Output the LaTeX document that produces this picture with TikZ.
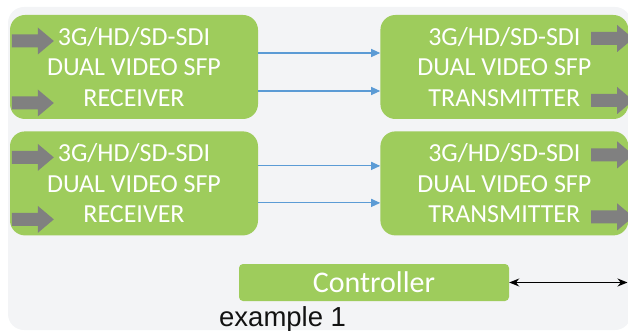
\documentclass[tikz,border=0pt]{standalone}
\usepackage{fontspec}
\usepackage{tikz}
\usetikzlibrary{positioning}
\usetikzlibrary{arrows.meta}
\newfontfamily\carlito{Carlito}
\newfontfamily\arial{Liberation Sans}
\definecolor{sfpgreen}{RGB}{158,204,92}
\definecolor{fatgray}{RGB}{128,128,128}
\definecolor{linkblue}{RGB}{91,155,213}
\definecolor{panelgray}{RGB}{243,244,246}
% grey block arrow, tail centre at #1
\newcommand\fatarrow[1]{\fill[fatgray] (#1) ++(0,-6.5) -- ++(26,0) -- ++(0,-7)
  -- ++(16,13.5) -- ++(-16,13.5) -- ++(0,-7) -- ++(-26,0) -- cycle;}

\begin{document}
\begin{tikzpicture}[x=1pt,y=-1pt,>={Stealth[length=10pt,width=8pt]},
    sfp/.style={fill=sfpgreen,text=white,rounded corners=15pt,inner sep=0pt,
      minimum width=248pt,minimum height=104pt,align=center,
      font=\carlito\fontsize{26pt}{30.5pt}\selectfont},
    link/.style={linkblue,line width=1.1pt,-{Triangle[length=9pt,width=8pt]}}]
    \clip (0,0) rectangle (628,331);
    \fill[panelgray,rounded corners=16pt] (8,7) rectangle (631,330);
    % modules
    \node[sfp] (rx1) at (134,67) {3G/HD/SD-SDI\\DUAL VIDEO SFP\\RECEIVER};
    \node[sfp,below=12pt of rx1] (rx2) {3G/HD/SD-SDI\\DUAL VIDEO SFP\\RECEIVER};
    \node[sfp,right=122pt of rx1] (tx1) {3G/HD/SD-SDI\\DUAL VIDEO SFP\\TRANSMITTER};
    \node[sfp,right=122pt of rx2] (tx2) {3G/HD/SD-SDI\\DUAL VIDEO SFP\\TRANSMITTER};
    \foreach \m in {rx1,rx2}{
      \fatarrow{[xshift=2pt,yshift=26pt]\m.west}
      \fatarrow{[xshift=2pt,yshift=-36pt]\m.west}
    }
    \foreach \m in {tx1,tx2}{
      \fatarrow{[xshift=211pt,yshift=28.5pt]\m.west}
      \fatarrow{[xshift=211pt,yshift=-33.5pt]\m.west}
    }
    \foreach \r/\t/\u in {rx1/tx1/14,rx1/tx1/-24,rx2/tx2/17.5,rx2/tx2/-19.5}
      \draw[link] ([yshift=\u pt]\r.east) -- ([yshift=\u pt]\t.west);
    % controller
    \node[fill=sfpgreen,text=white,rounded corners=4pt,minimum width=270pt,
      minimum height=37pt,inner sep=0pt,font=\carlito\fontsize{30pt}{33pt}\selectfont]
      (ctl) at (374,282.5) {Controller};
    \coordinate (bus) at (627.5,282.5);
    \draw[<->,line width=1.3pt] (ctl) -- (bus);
    \node[anchor=base west,inner sep=0pt,text=black!93,
      font=\arial\fontsize{27.5pt}{33pt}\selectfont] (cap) at (219,326.5) {example 1};
\end{tikzpicture}
\end{document}
